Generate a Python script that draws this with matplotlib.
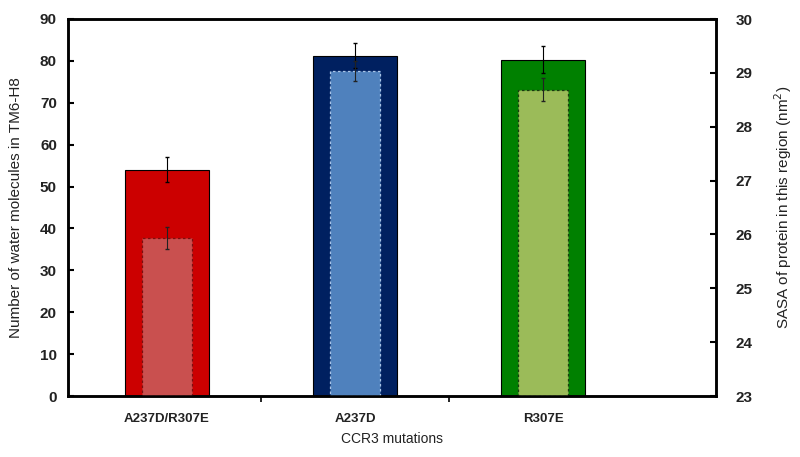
import matplotlib
matplotlib.use("Agg")
import matplotlib.pyplot as plt
import numpy as np

categories = ["A237D/R307E", "A237D", "R307E"]
water = [54.0, 81.2, 80.3]
water_err = [3.0, 3.0, 3.2]
sasa = [25.93, 29.03, 28.69]
sasa_err = [0.2, 0.19, 0.21]

outer_colors = ["#CC0000", "#002060", "#008000"]
inner_colors = ["#C9504F", "#4F81BD", "#9BBB59"]
inner_edges = ["#7A1010", "#A9C4E6", "#1A3A10"]

font = ["Liberation Sans Narrow", "Liberation Sans", "DejaVu Sans"]
plt.rcParams["font.family"] = font

fig = plt.figure(figsize=(8.0, 4.57), dpi=100)
ax1 = fig.add_axes([68/800, 1 - 396/457, (716-68)/800, (396-19)/457])
x = np.arange(len(categories))

ax1.bar(x, water, width=0.45, color=outer_colors, edgecolor="black", linewidth=0.8, zorder=2)
ax1.errorbar(x, water, yerr=water_err, fmt="none", ecolor="black", elinewidth=0.8, capsize=1.5, zorder=3)
ax1.set_ylim(0, 90)
ax1.set_yticks(np.arange(0, 91, 10))
ax1.set_xlim(-0.527, 2.92)
ax1.set_xticks(x)
ax1.set_xticklabels(categories, fontsize=9.5, fontweight="bold", color="#222222")
ax1.set_xticks([0.5, 1.5], minor=True)
ax1.tick_params(axis="x", which="major", length=0, pad=12)
ax1.tick_params(axis="x", which="minor", length=4, direction="out", width=1.2)
ax1.tick_params(axis="y", direction="in", length=4, width=1.5, labelsize=11, pad=8)
for lab in ax1.get_yticklabels():
    lab.set_fontweight("bold")
    lab.set_color("#222222")
ax1.set_ylabel("Number of water molecules in TM6-H8", fontsize=11,
               family=["Liberation Sans", "DejaVu Sans"], color="#222222", labelpad=12)
ax1.set_xlabel("CCR3 mutations", fontsize=10, color="#222222", labelpad=5)
for s in ax1.spines.values():
    s.set_linewidth(1.8)

ax2 = ax1.twinx()
for i in range(len(categories)):
    ax2.bar(x[i], sasa[i] - 23, bottom=23, width=0.27, color=inner_colors[i],
            edgecolor=inner_edges[i], linewidth=0.9, linestyle=(0, (2, 2)), zorder=2)
ax2.errorbar(x, sasa, yerr=sasa_err, fmt="none", ecolor="#222222", elinewidth=0.8, capsize=1.5, zorder=3)
ax2.set_ylim(23, 30)
ax2.set_yticks(np.arange(23, 31, 1))
ax2.tick_params(axis="y", direction="in", length=4, width=1.5, labelsize=11, pad=14)
for lab in ax2.get_yticklabels():
    lab.set_fontweight("bold")
    lab.set_color("#222222")
ax2.set_ylabel("SASA of protein in this region (nm$^2$)", fontsize=11,
               family=["Liberation Sans", "DejaVu Sans"], color="#222222", labelpad=14)
for s in ax2.spines.values():
    s.set_linewidth(1.8)

fig.savefig("out.png", dpi=100)
